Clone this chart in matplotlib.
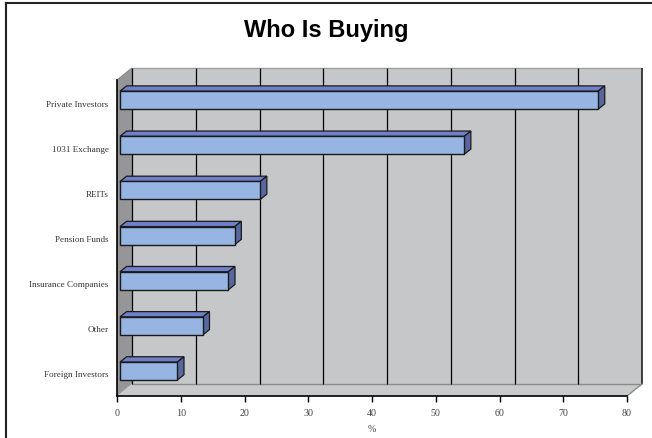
import numpy as np
import matplotlib
matplotlib.use("Agg")
import matplotlib.pyplot as plt
from matplotlib.patches import Polygon
from matplotlib.lines import Line2D

# data, bottom to top
categories = ["Foreign Investors", "Other", "Insurance Companies", "Pension Funds",
              "REITs", "1031 Exchange", "Private Investors"]
values = [9, 13, 17, 18, 22, 54, 75]
xticks = [0, 10, 20, 30, 40, 50, 60, 70, 80]
title = "Who Is Buying"
xlabel = "%"

W, H = 652, 439
fig = plt.figure(figsize=(W / 100, H / 100), dpi=100)
fig.patch.set_facecolor("white")

# axes = front plane of the 3-D box (pixels from reference)
L, R, T, B = 117, 627, 81, 397
ax = fig.add_axes([L / W, (H - B) / H, (R - L) / W, (B - T) / H])
xmax = 80
ymin, ymax = -0.5, len(categories) - 0.5
ax.set_xlim(0, xmax)
ax.set_ylim(ymin, ymax)
ax.patch.set_visible(False)

ux = (R - L) / xmax            # px per x unit
uy = (B - T) / (ymax - ymin)   # px per category
DX, DY = 15 / ux, 12 / uy      # depth of box in data units

def poly(pts, fc, ec="none", lw=0.0, z=1):
    p = Polygon(pts, closed=True, facecolor=fc, edgecolor=ec, linewidth=lw,
                zorder=z, clip_on=False, joinstyle="miter")
    ax.add_patch(p)

# back wall, floor, side wall
poly([(DX, ymin + DY), (xmax + DX, ymin + DY), (xmax + DX, ymax + DY), (DX, ymax + DY)],
     "#c6c7c9", z=0.1)
poly([(0, ymin), (xmax, ymin), (xmax + DX, ymin + DY), (DX, ymin + DY)], "#c9cacc", z=0.2)
poly([(0, ymin), (0, ymax), (DX, ymax + DY), (DX, ymin + DY)], "#969698", z=0.2)

edge = dict(clip_on=False, zorder=0.3, solid_capstyle="butt")
ax.plot([DX, xmax + DX], [ymax + DY] * 2, color="#a0a0a0", lw=1.0, **edge)
ax.plot([xmax + DX] * 2, [ymin + DY, ymax + DY], color="#222222", lw=1.2, **edge)
ax.plot([DX, xmax + DX], [ymin + DY] * 2, color="#8a8a8a", lw=1.0, **edge)
ax.plot([xmax, xmax + DX], [ymin, ymin + DY], color="#8a8a8a", lw=1.0, **edge)
ax.plot([0, DX], [ymax, ymax + DY], color="#8a8a8a", lw=0.8, **edge)

# gridlines on back wall
for t in xticks[:-1]:
    ax.plot([t + DX] * 2, [ymin + DY, ymax + DY], color="black", lw=0.9, **edge)

# bars
frac0, frac1 = 0.2, 0.64
bx, by = frac0 * DX, frac0 * DY
ddx, ddy = (frac1 - frac0) * DX, (frac1 - frac0) * DY
h = 18 / uy
for i, v in enumerate(values):
    x0, x1 = bx, v + bx
    y0, y1 = i - h / 2 + by, i + h / 2 + by
    poly([(x0, y1), (x1, y1), (x1 + ddx, y1 + ddy), (x0 + ddx, y1 + ddy)],
         "#6f80c8", "#1a1a1a", 0.9, z=2)
    poly([(x1, y0), (x1, y1), (x1 + ddx, y1 + ddy), (x1 + ddx, y0 + ddy)],
         "#5867a0", "#1a1a1a", 0.9, z=2)
    poly([(x0, y0), (x1, y0), (x1, y1), (x0, y1)], "#97b5e2", "#1a1a1a", 1.0, z=3)

# axes styling
for s in ["top", "right"]:
    ax.spines[s].set_visible(False)
ax.spines["bottom"].set_linewidth(1.2)
ax.spines["left"].set_linewidth(1.2)
ax.set_xticks(xticks)
ax.set_xticklabels([str(t) for t in xticks], family="Liberation Serif",
                   fontsize=7.2, color="#444444")
ax.tick_params(axis="x", length=4, width=1, direction="out", pad=5)
ax.set_yticks(range(len(categories)))
ax.set_yticklabels(categories, family="Liberation Serif", fontsize=6.6, color="#333333")
ax.tick_params(axis="y", length=0, pad=6)
ax.set_xlabel(xlabel, family="Liberation Serif", fontsize=7.2, color="#444444", labelpad=5)

fig.text(0.5, 1 - 30 / H, title, ha="center", va="center",
         family="Liberation Sans", fontweight="bold", fontsize=17)

# outer frame (top and left visible)
fig.add_artist(Line2D([5.5 / W, 1], [1 - 3.5 / H] * 2, color="#222222", lw=1.5,
                      transform=fig.transFigure))
fig.add_artist(Line2D([6 / W] * 2, [0, 1 - 3.5 / H], color="#222222", lw=1.5,
                      transform=fig.transFigure))

fig.savefig("out.png", dpi=100)
